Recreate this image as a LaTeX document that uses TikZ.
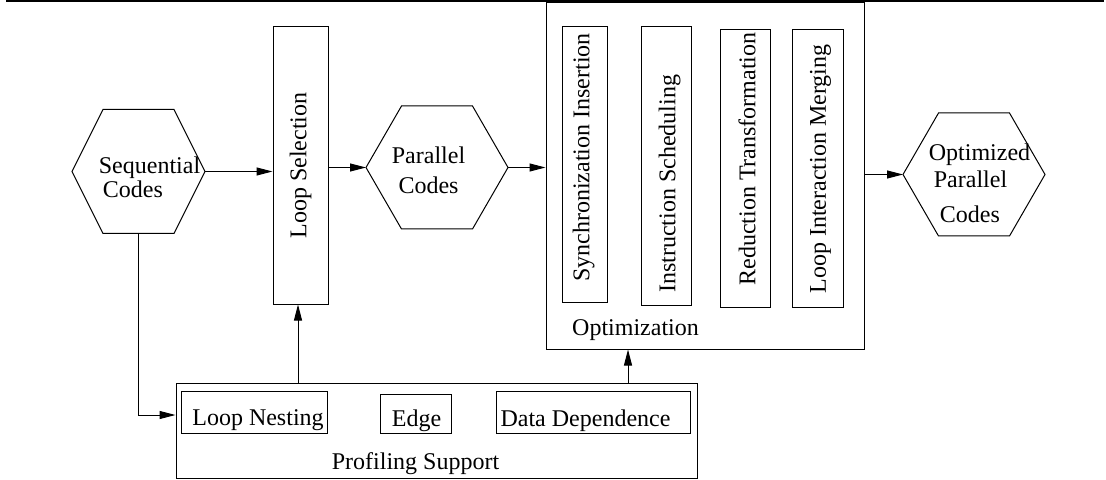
\documentclass[tikz,border=0pt]{standalone}
\usepackage{fontspec}
\usepackage{graphicx}
\setmainfont{Liberation Serif}
\usetikzlibrary{arrows.meta}

\tikzset{
  every node/.style={font=\fontsize{12}{12}\selectfont, inner sep=0pt},
  box/.style={draw, line width=0.5pt, rectangle},
  conn/.style={line width=0.5pt, -{Triangle[length=8pt,width=4pt]}},
  hexline/.style={line width=0.5pt, line join=miter},
}

% hexagon with pointed left/right ends:
% name, centre x, centre y, half width, half height, half width of top edge
\newcommand\hexnode[6]{%
  \coordinate (#1-W)  at ({#2-#4},#3);
  \coordinate (#1-E)  at ({#2+#4},#3);
  \coordinate (#1-NW) at ({#2-#6},{#3-#5});
  \coordinate (#1-NE) at ({#2+#6},{#3-#5});
  \coordinate (#1-SW) at ({#2-#6},{#3+#5});
  \coordinate (#1-SE) at ({#2+#6},{#3+#5});
  \coordinate (#1-S)  at (#2,{#3+#5});
  \draw[hexline] (#1-W) -- (#1-NW) -- (#1-NE) -- (#1-E) -- (#1-SE) -- (#1-SW) -- cycle;
}

\begin{document}
\begin{tikzpicture}[x=0.5pt, y=-0.5pt]
\useasboundingbox (0,0) rectangle (1106,480);

% rule across the top
\draw[line width=1.25pt] (6,1.25) -- (1104,1.25);

% code hexagons
\hexnode{seq}{138.5}{171.5}{66.5}{62}{35.5}
\node[align=left] (seqt) at (149.5,177.5) {Sequential\\\hspace{2pt}Codes};

\hexnode{par}{437}{167.5}{71}{61.5}{35.5}
\node[align=center] (part) at (428.5,169.8) {Parallel\\[3pt]Codes};

\hexnode{opc}{974}{174.5}{71}{61.5}{35.5}
\node[align=left] (opct) at (979.5,182.8) {Optimized\\[1.5pt]\hspace{2.5pt}Parallel\\[5.5pt]\hspace{5.5pt}Codes};

% loop selection
\node[box, minimum width=27.5pt, minimum height=138.5pt] (sel) at (300.5,165.5)
  {\rotatebox{90}{Loop Selection}};

% optimization stage and its passes
\node[box, minimum width=159pt, minimum height=173pt] (opt) at (705,176) {};
\node[box, minimum width=22.5pt, minimum height=137.5pt] (sync) at (584.5,164.5) {};
\node (synct) at (583.7,157.5) {\rotatebox{90}{Synchronization Insertion}};
\node[box, minimum width=25pt, minimum height=139pt] (isch) at (666,166) {};
\node (ischt) at (669.7,184) {\rotatebox{90}{Instruction Scheduling}};
\node[box, minimum width=25pt, minimum height=138.5pt] (red) at (745,168.5) {};
\node (redt) at (747,159) {\rotatebox{90}{Reduction Transformation}};
\node[box, minimum width=25.5pt, minimum height=138.5pt] (lim) at (817.5,168.5) {};
\node (limt) at (820.4,169) {\rotatebox{90}{Loop Interaction Merging}};
\node (optt) at (635.5,330) {Optimization};

% profiling support
\node[box, minimum width=260.5pt, minimum height=47.5pt] (prof) at (436.5,430.5) {};
\node[box, minimum width=73pt, minimum height=21pt] (nest) at (254,412) {};
\node (nestt) at (258,420.4) {Loop Nesting};
\node[box, minimum width=35.5pt, minimum height=19.5pt] (edge) at (415.5,413.5) {};
\node (edget) at (416.5,420.4) {Edge};
\node[box, minimum width=97pt, minimum height=21pt] (ddep) at (593,412) {};
\node (ddept) at (585.5,420.4) {Data Dependence};
\node (proft) at (415.5,463.4) {Profiling Support};

% flow
\draw[conn] (seq-E) -- (seq-E -| sel.west);
\draw[conn] (sel.east |- par-W) -- (par-W);
\draw[conn] (par-E) -- (par-E -| opt.west);
\draw[conn] (opt.east |- opc-W) -- (opc-W);
\draw[conn] (seq-S) |- ([yshift=7.75pt]prof.west);
\draw[conn] ([xshift=-1.25pt]sel.south |- prof.north) -- ([xshift=-1.25pt]sel.south);
\draw[conn] ([xshift=-38.5pt]opt.south |- prof.north) -- ([xshift=-38.5pt]opt.south);
\end{tikzpicture}
\end{document}
